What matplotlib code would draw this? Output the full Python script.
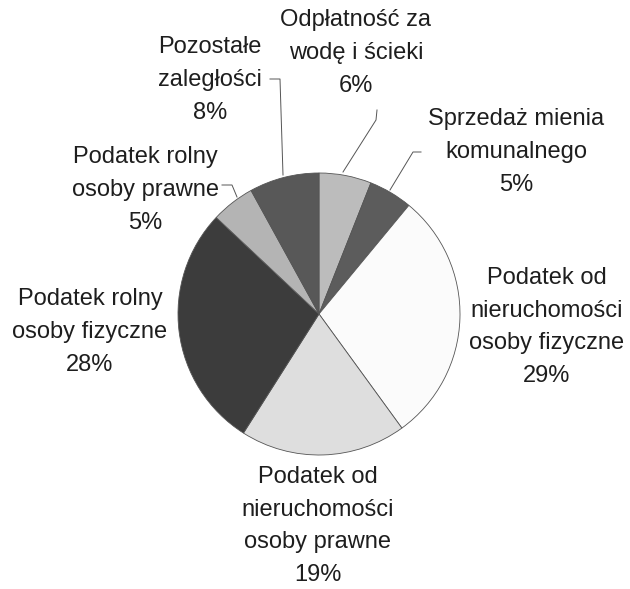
import numpy as np
import matplotlib.pyplot as plt

plt.rcParams['font.family'] = ['Liberation Sans', 'DejaVu Sans']

# kolejnosc zgodnie z ruchem wskazowek zegara od godziny 12
etykiety = ['Odpłatność za\nwodę i ścieki',
            'Sprzedaż mienia\nkomunalnego',
            'Podatek od\nnieruchomości\nosoby fizyczne',
            'Podatek od\nnieruchomości\nosoby prawne',
            'Podatek rolny\nosoby fizyczne',
            'Podatek rolny\nosoby prawne',
            'Pozostałe\nzaległości']
udzialy = [6, 5, 29, 19, 28, 5, 8]
kolory = ['#bcbcbc', '#5c5c5c', '#fbfbfb', '#dedede', '#3c3c3c', '#b4b4b4', '#585858']

# polozenie opisow (piksele obrazka)
poz_x = [356, 516, 547, 318, 90, 145, 210]
poz_y = [53, 152, 327, 526, 332, 190, 80]

fig = plt.figure(figsize=(6.3, 5.89), dpi=100)
ax = fig.add_axes([0, 0, 1, 1])

# os y odwrocona, wiec kat -90 to gora, a counterclock=True daje ruch zgodny z zegarem
ax.pie(udzialy, colors=kolory, startangle=-90, counterclock=True,
       center=(319, 314), radius=141,
       wedgeprops=dict(edgecolor='#555555', linewidth=0.6))
ax.set_xlim(0, 630)
ax.set_ylim(589, 0)
ax.set_aspect('equal')
ax.axis('off')

for lab, p, x, y in zip(etykiety, udzialy, poz_x, poz_y):
    ax.text(x, y, f'{lab}\n{p}%', ha='center', va='center', fontsize=17,
            linespacing=1.62, color='#1e1e1e')

# linie odniesienia
lw = 0.7
ax.plot([270, 280, 283], [79, 79, 175], color='#555555', lw=lw)
ax.plot([377, 376, 343], [110, 120, 172], color='#555555', lw=lw)
ax.plot([421, 413, 390], [152, 152, 190], color='#555555', lw=lw)
ax.plot([222, 232, 237], [185, 185, 197], color='#555555', lw=lw)

plt.savefig('out.png', dpi=100)
